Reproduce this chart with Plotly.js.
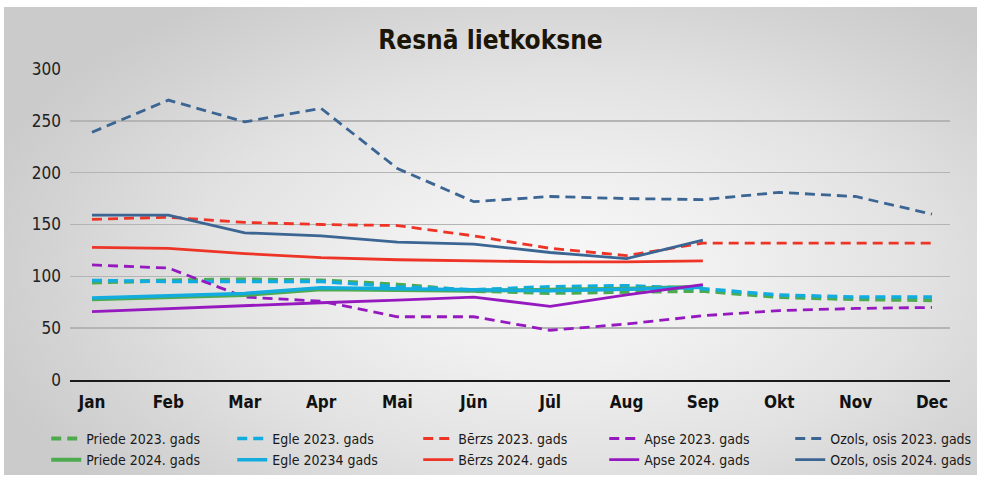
<!DOCTYPE html>
<html>
<head>
<meta charset="utf-8">
<script src="https://cdn.plot.ly/plotly-3.0.1.min.js"></script>
<style>
  html, body { margin: 0; padding: 0; background: #ffffff; }
  #frame {
    position: absolute; left: 4px; top: 7px; width: 973px; height: 468px;
    background: radial-gradient(ellipse 62% 70% at 57% 56%, #f8f8f8 0%, #efefef 30%, #e2e2e2 60%, #d3d3d3 85%, #cbcbcb 100%);
  }
  #chart { position: absolute; left: 0; top: 0; width: 981px; height: 479px; }
</style>
</head>
<body>
<div id="frame"></div>
<div id="chart"></div>
<script>
const months = ["Jan", "Feb", "Mar", "Apr", "Mai", "Jūn", "Jūl", "Aug", "Sep", "Okt", "Nov", "Dec"];
const yTicks = [0, 50, 100, 150, 200, 250, 300];

const priede2023 = [94, 96, 97, 96, 92, 86, 84, 85, 86, 80, 78, 77];
const egle2023   = [96, 95, 95, 95, 90, 87, 90, 91, 88, 82, 80, 80];
const berzs2023  = [155, 157, 152, 150, 149, 139, 127, 120, 132, 132, 132, 132];
const apse2023   = [111, 108, 80, 76, 61, 61, 48, 54, 62, 67, 69, 70];
const ozols2023  = [239, 270, 249, 262, 204, 172, 177, 175, 174, 181, 177, 160];

const priede2024 = [78, 80, 82, 87.5, 87, 86, 87, 88, 90];
const egle2024   = [79, 81, 83.5, 89, 88, 86.5, 86, 87.5, 89.5];
const berzs2024  = [128, 127, 122, 118, 116, 115, 114, 114, 115];
const apse2024   = [66, 69, 72, 74.5, 77, 80, 71, 82, 92];
const ozols2024  = [159, 159, 142, 139, 133, 131, 123, 117, 135];

const names = {
  p23: "Priede 2023. gads", e23: "Egle 2023. gads", b23: "Bērzs 2023. gads", a23: "Apse 2023. gads", o23: "Ozols, osis 2023. gads",
  p24: "Priede 2024. gads", e24: "Egle 20234 gads", b24: "Bērzs 2024. gads", a24: "Apse 2024. gads", o24: "Ozols, osis 2024. gads"
};

const GREEN = "#4eaa4f", CYAN = "#12acdf", RED = "#ee3426", PURPLE = "#9619c0", BLUE = "#3b6592";
const DASH = "10px,6px";

function tr(vals, name, color, width, dash) {
  return {
    type: "scatter", mode: "lines",
    x: months.slice(0, vals.length), y: vals, name: name,
    line: { color: color, width: width, dash: dash },
    hoverinfo: "skip"
  };
}

const data = [
  tr(priede2023, names.p23, GREEN, 4, DASH),
  tr(egle2023, names.e23, CYAN, 3.5, DASH),
  tr(berzs2023, names.b23, RED, 2.8, DASH),
  tr(apse2023, names.a23, PURPLE, 2.8, DASH),
  tr(ozols2023, names.o23, BLUE, 2.8, DASH),
  tr(priede2024, names.p24, GREEN, 4, "solid"),
  tr(egle2024, names.e24, CYAN, 3.5, "solid"),
  tr(berzs2024, names.b24, RED, 2.8, "solid"),
  tr(apse2024, names.a24, PURPLE, 2.8, "solid"),
  tr(ozols2024, names.o24, BLUE, 2.8, "solid")
];

const FONT = "'DejaVu Sans Condensed', 'Liberation Sans Narrow', 'Noto Sans', sans-serif";

const layout = {
  width: 981, height: 479,
  margin: { l: 70, r: 31, t: 69, b: 99, autoexpand: false },
  paper_bgcolor: "rgba(0,0,0,0)",
  plot_bgcolor: "rgba(0,0,0,0)",
  title: {
    text: "<b>Resnā lietkoksne</b>",
    x: 0.5, xanchor: "center", y: 1 - 40 / 479, yanchor: "middle",
    font: { family: FONT, size: 26, color: "#1c1608", stretch: "condensed" }
  },
  xaxis: {
    type: "category",
    categoryorder: "array", categoryarray: months,
    range: [-0.288, 11.236],
    showgrid: false, zeroline: false,
    showline: true, linecolor: "#1a1a1a", linewidth: 1.5,
    ticks: "", ticklabelstandoff: 6,
    tickfont: { family: FONT, size: 17, color: "#111111", weight: "bold", stretch: "condensed" },
    fixedrange: true
  },
  yaxis: {
    range: [0, 300],
    tickvals: yTicks, ticktext: yTicks.map(String),
    showgrid: true, gridcolor: "#b4b4b4", gridwidth: 1.5,
    zeroline: false, showline: false,
    ticks: "", ticklabelstandoff: 8,
    tickfont: { family: FONT, size: 17, color: "#222222", stretch: "condensed" },
    fixedrange: true
  },
  showlegend: true,
  legend: {
    orientation: "h",
    x: -0.027, xanchor: "left",
    y: -0.138, yanchor: "top",
    bgcolor: "rgba(0,0,0,0)",
    font: { family: FONT, size: 14, color: "#1a1a1a", stretch: "condensed" },
    entrywidth: 141, entrywidthmode: "pixels",
    itemwidth: 30,
    traceorder: "normal"
  }
};

Plotly.newPlot("chart", data, layout, { displayModeBar: false, staticPlot: true });
</script>
</body>
</html>
